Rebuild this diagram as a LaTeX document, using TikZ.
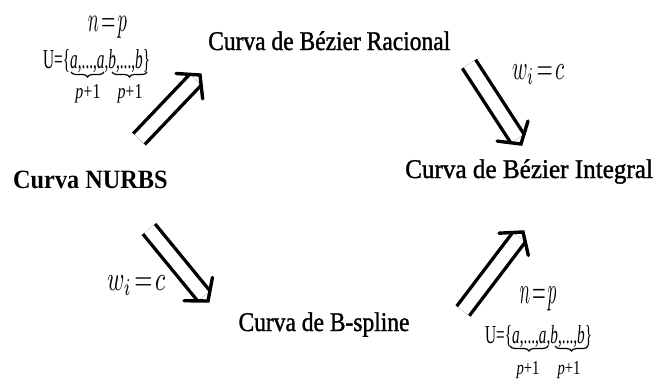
\documentclass[tikz,border=0pt]{standalone}
\usepackage{fontspec}
\usepackage{graphicx}
\usetikzlibrary{calc,decorations.pathreplacing}
\newfontfamily\labfont{Liberation Serif}[FakeStretch=0.87]
\newfontfamily\mainfont{Liberation Serif}[FakeStretch=0.87,FakeBold=1.2]
\newfontfamily\nurbsfont{Liberation Serif}[FakeStretch=0.92]
\newcommand{\knottxt}{\labfont U=\{\textit{a},...,\textit{a},\textit{b},...,\textit{b}\}}
\newcommand{\pone}{\labfont\textit{p}+1}
\newcommand{\dblarrow}[2]{%
  \draw[shaft] (#1) -- ($(#2)!6.5pt!(#1)$);
  \draw[chev] ($(#2)!24pt!50:(#1)$) -- (#2) -- ($(#2)!24pt!-50:(#1)$);}
\tikzset{
  txt/.style={inner sep=0pt, font=\mainfont\fontsize{27}{30}\selectfont},
  nurbstxt/.style={inner sep=0pt, font=\nurbsfont\bfseries\fontsize{26.4}{30}\selectfont},
  lab/.style={inner sep=0pt},
  shaft/.style={double, double distance=12.3pt, line width=3.4pt},
  chev/.style={line width=3.4pt, line join=miter, line cap=round},
  brc/.style={decorate, decoration={brace, mirror, amplitude=5pt}, line width=1.2pt}
}
\begin{document}
\begin{tikzpicture}[x=1pt,y=-1pt]
\fill[white] (0,0) rectangle (654,381);
\useasboundingbox (0,0) rectangle (654,381);
% main texts
\node[txt, anchor=base west] (rac) at (208,50) {Curva de Bézier Racional};
\node[txt, anchor=base west] (int) at (405,178) {\scalebox{1.07}[1]{Curva de Bézier Integral}};
\node[nurbstxt, anchor=base west] (nurbs) at (13,188) {Curva NURBS};
\node[txt, anchor=base] (bsp) at (324,331) {Curva de B-spline};
% upper label block
\node[lab, anchor=base] (np1) at (107.5,31) {\resizebox*{39pt}{22pt}{$n\!=\!p$}};
\node[lab, anchor=base west] (k1) at (43,68) {\resizebox{107pt}{19pt}{\knottxt}};
\coordinate (b1a) at (71,72);  \coordinate (b1b) at (104,72);
\coordinate (b1c) at (112,72); \coordinate (b1d) at (147,72);
\draw[brc] (b1a) -- (b1b);
\draw[brc] (b1c) -- (b1d);
\node[lab, anchor=base] (p1a) at (88,98) {\resizebox{25pt}{14pt}{\pone}};
\node[lab, anchor=base] (p1b) at (130,98) {\resizebox{25pt}{14pt}{\pone}};
% lower label block
\node[lab, anchor=base] (np2) at (538,303) {\resizebox*{37pt}{24pt}{$n\!=\!p$}};
\node[lab, anchor=base west] (k2) at (485,343) {\resizebox{107pt}{18pt}{\knottxt}};
\coordinate (b2a) at (510,346); \coordinate (b2b) at (548,346);
\coordinate (b2c) at (555,346); \coordinate (b2d) at (588,346);
\draw[brc] (b2a) -- (b2b);
\draw[brc] (b2c) -- (b2d);
\node[lab, anchor=base] (p2a) at (528,374) {\resizebox{23pt}{13pt}{\pone}};
\node[lab, anchor=base] (p2b) at (569,374) {\resizebox{23pt}{13pt}{\pone}};
% weight labels
\node[lab, anchor=base west] (w1) at (512,79) {\resizebox*{52pt}{20pt}{$w_i\!=\!c$}};
\node[lab, anchor=base west] (w2) at (107,290) {\resizebox*{58pt}{20pt}{$w_i\!=\!c$}};
% arrows
\coordinate (a1s) at (139,139); \coordinate (a1e) at (200,75);
\coordinate (a2s) at (469,64);  \coordinate (a2e) at (521,144);
\coordinate (a3s) at (149,229); \coordinate (a3e) at (208,301);
\coordinate (a4s) at (463,311); \coordinate (a4e) at (523,232);
\dblarrow{a1s}{a1e}
\dblarrow{a2s}{a2e}
\dblarrow{a3s}{a3e}
\dblarrow{a4s}{a4e}
\end{tikzpicture}
\end{document}
